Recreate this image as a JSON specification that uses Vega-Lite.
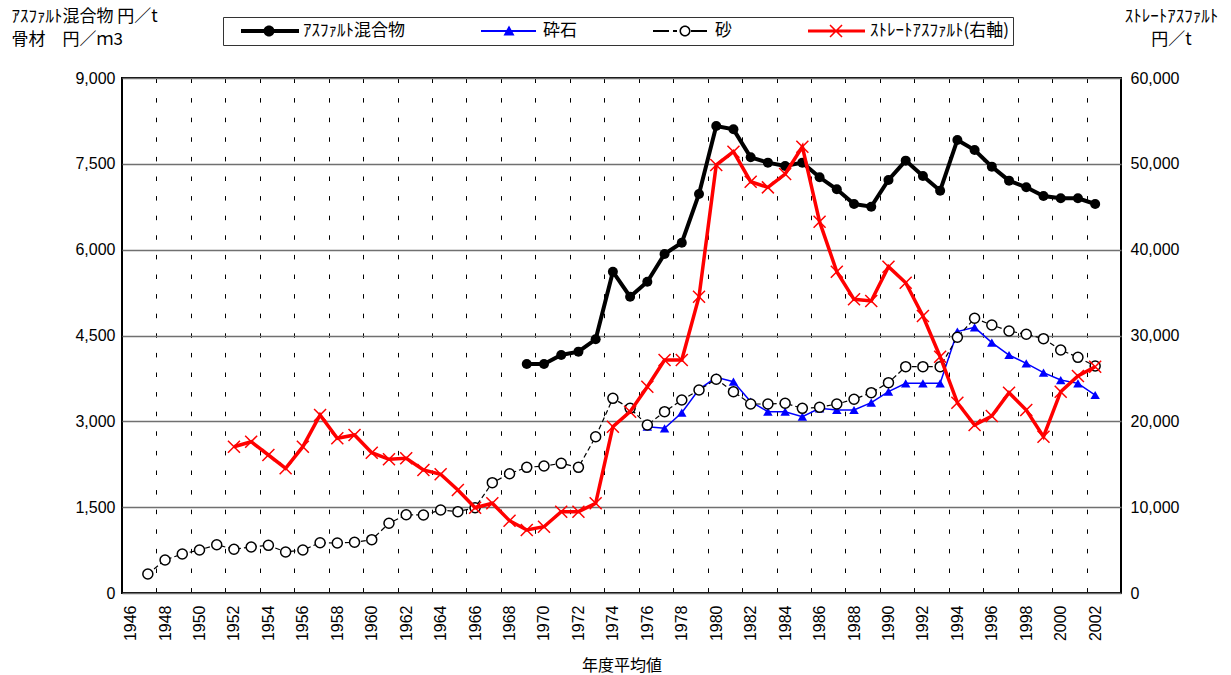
{
  "$schema": "https://vega.github.io/schema/vega-lite/v6.json",
  "autosize": {"type": "none"},
  "padding": {"left": 122, "top": 78, "right": 110, "bottom": 82},
  "width": 999,
  "height": 515,
  "background": "white",
  "config": {
    "view": {"stroke": "black", "strokeWidth": 2},
    "axis": {
      "labelFont": "Liberation Sans",
      "labelFontSize": 16,
      "labelColor": "black",
      "titleFont": "Noto Sans CJK JP",
      "titleFontSize": 17,
      "titleFontWeight": "normal",
      "titleColor": "black",
      "domain": false,
      "ticks": false,
      "labelOverlap": false
    }
  },
  "datasets": {
    "prices": [
      {"year": 1947, "series": "砂", "value": 332},
      {"year": 1948, "series": "砂", "value": 577},
      {"year": 1949, "series": "砂", "value": 682},
      {"year": 1950, "series": "砂", "value": 751},
      {"year": 1951, "series": "砂", "value": 844},
      {"year": 1952, "series": "砂", "value": 764},
      {"year": 1953, "series": "砂", "value": 804},
      {"year": 1954, "series": "砂", "value": 833},
      {"year": 1955, "series": "砂", "value": 717},
      {"year": 1956, "series": "砂", "value": 751},
      {"year": 1957, "series": "砂", "value": 879},
      {"year": 1958, "series": "砂", "value": 873},
      {"year": 1959, "series": "砂", "value": 886},
      {"year": 1960, "series": "砂", "value": 932},
      {"year": 1961, "series": "砂", "value": 1218},
      {"year": 1962, "series": "砂", "value": 1368},
      {"year": 1963, "series": "砂", "value": 1363},
      {"year": 1964, "series": "砂", "value": 1450},
      {"year": 1965, "series": "砂", "value": 1421},
      {"year": 1966, "series": "砂", "value": 1491},
      {"year": 1967, "series": "砂", "value": 1928},
      {"year": 1968, "series": "砂", "value": 2085},
      {"year": 1969, "series": "砂", "value": 2196},
      {"year": 1970, "series": "砂", "value": 2219},
      {"year": 1971, "series": "砂", "value": 2266},
      {"year": 1972, "series": "砂", "value": 2196},
      {"year": 1973, "series": "砂", "value": 2731},
      {"year": 1974, "series": "砂", "value": 3402},
      {"year": 1975, "series": "砂", "value": 3227},
      {"year": 1976, "series": "砂", "value": 2936},
      {"year": 1977, "series": "砂", "value": 3169},
      {"year": 1978, "series": "砂", "value": 3373},
      {"year": 1979, "series": "砂", "value": 3548},
      {"year": 1980, "series": "砂", "value": 3735},
      {"year": 1981, "series": "砂", "value": 3518},
      {"year": 1982, "series": "砂", "value": 3303},
      {"year": 1983, "series": "砂", "value": 3303},
      {"year": 1984, "series": "砂", "value": 3315},
      {"year": 1985, "series": "砂", "value": 3227},
      {"year": 1986, "series": "砂", "value": 3245},
      {"year": 1987, "series": "砂", "value": 3303},
      {"year": 1988, "series": "砂", "value": 3385},
      {"year": 1989, "series": "砂", "value": 3501},
      {"year": 1990, "series": "砂", "value": 3676},
      {"year": 1991, "series": "砂", "value": 3955},
      {"year": 1992, "series": "砂", "value": 3955},
      {"year": 1993, "series": "砂", "value": 3955},
      {"year": 1994, "series": "砂", "value": 4469},
      {"year": 1995, "series": "砂", "value": 4801},
      {"year": 1996, "series": "砂", "value": 4684},
      {"year": 1997, "series": "砂", "value": 4579},
      {"year": 1998, "series": "砂", "value": 4521},
      {"year": 1999, "series": "砂", "value": 4445},
      {"year": 2000, "series": "砂", "value": 4247},
      {"year": 2001, "series": "砂", "value": 4118},
      {"year": 2002, "series": "砂", "value": 3967},
      {"year": 1976, "series": "砕石", "value": 2907},
      {"year": 1977, "series": "砕石", "value": 2878},
      {"year": 1978, "series": "砕石", "value": 3151},
      {"year": 1979, "series": "砕石", "value": 3559},
      {"year": 1980, "series": "砕石", "value": 3769},
      {"year": 1981, "series": "砕石", "value": 3693},
      {"year": 1982, "series": "砕石", "value": 3343},
      {"year": 1983, "series": "砕石", "value": 3169},
      {"year": 1984, "series": "砕石", "value": 3169},
      {"year": 1985, "series": "砕石", "value": 3081},
      {"year": 1986, "series": "砕石", "value": 3227},
      {"year": 1987, "series": "砕石", "value": 3198},
      {"year": 1988, "series": "砕石", "value": 3198},
      {"year": 1989, "series": "砕石", "value": 3326},
      {"year": 1990, "series": "砕石", "value": 3518},
      {"year": 1991, "series": "砕石", "value": 3664},
      {"year": 1992, "series": "砕石", "value": 3664},
      {"year": 1993, "series": "砕石", "value": 3664},
      {"year": 1994, "series": "砕石", "value": 4568},
      {"year": 1995, "series": "砕石", "value": 4643},
      {"year": 1996, "series": "砕石", "value": 4375},
      {"year": 1997, "series": "砕石", "value": 4159},
      {"year": 1998, "series": "砕石", "value": 4014},
      {"year": 1999, "series": "砕石", "value": 3850},
      {"year": 2000, "series": "砕石", "value": 3722},
      {"year": 2001, "series": "砕石", "value": 3664},
      {"year": 2002, "series": "砕石", "value": 3460},
      {"year": 1969, "series": "ｱｽﾌｧﾙﾄ混合物", "value": 4002},
      {"year": 1970, "series": "ｱｽﾌｧﾙﾄ混合物", "value": 4002},
      {"year": 1971, "series": "ｱｽﾌｧﾙﾄ混合物", "value": 4159},
      {"year": 1972, "series": "ｱｽﾌｧﾙﾄ混合物", "value": 4218},
      {"year": 1973, "series": "ｱｽﾌｧﾙﾄ混合物", "value": 4433},
      {"year": 1974, "series": "ｱｽﾌｧﾙﾄ混合物", "value": 5615},
      {"year": 1975, "series": "ｱｽﾌｧﾙﾄ混合物", "value": 5178},
      {"year": 1976, "series": "ｱｽﾌｧﾙﾄ混合物", "value": 5440},
      {"year": 1977, "series": "ｱｽﾌｧﾙﾄ混合物", "value": 5924},
      {"year": 1978, "series": "ｱｽﾌｧﾙﾄ混合物", "value": 6122},
      {"year": 1979, "series": "ｱｽﾌｧﾙﾄ混合物", "value": 6973},
      {"year": 1980, "series": "ｱｽﾌｧﾙﾄ混合物", "value": 8161},
      {"year": 1981, "series": "ｱｽﾌｧﾙﾄ混合物", "value": 8103},
      {"year": 1982, "series": "ｱｽﾌｧﾙﾄ混合物", "value": 7614},
      {"year": 1983, "series": "ｱｽﾌｧﾙﾄ混合物", "value": 7521},
      {"year": 1984, "series": "ｱｽﾌｧﾙﾄ混合物", "value": 7462},
      {"year": 1985, "series": "ｱｽﾌｧﾙﾄ混合物", "value": 7521},
      {"year": 1986, "series": "ｱｽﾌｧﾙﾄ混合物", "value": 7265},
      {"year": 1987, "series": "ｱｽﾌｧﾙﾄ混合物", "value": 7055},
      {"year": 1988, "series": "ｱｽﾌｧﾙﾄ混合物", "value": 6798},
      {"year": 1989, "series": "ｱｽﾌｧﾙﾄ混合物", "value": 6751},
      {"year": 1990, "series": "ｱｽﾌｧﾙﾄ混合物", "value": 7218},
      {"year": 1991, "series": "ｱｽﾌｧﾙﾄ混合物", "value": 7556},
      {"year": 1992, "series": "ｱｽﾌｧﾙﾄ混合物", "value": 7288},
      {"year": 1993, "series": "ｱｽﾌｧﾙﾄ混合物", "value": 7031},
      {"year": 1994, "series": "ｱｽﾌｧﾙﾄ混合物", "value": 7917},
      {"year": 1995, "series": "ｱｽﾌｧﾙﾄ混合物", "value": 7742},
      {"year": 1996, "series": "ｱｽﾌｧﾙﾄ混合物", "value": 7451},
      {"year": 1997, "series": "ｱｽﾌｧﾙﾄ混合物", "value": 7206},
      {"year": 1998, "series": "ｱｽﾌｧﾙﾄ混合物", "value": 7090},
      {"year": 1999, "series": "ｱｽﾌｧﾙﾄ混合物", "value": 6938},
      {"year": 2000, "series": "ｱｽﾌｧﾙﾄ混合物", "value": 6897},
      {"year": 2001, "series": "ｱｽﾌｧﾙﾄ混合物", "value": 6897},
      {"year": 2002, "series": "ｱｽﾌｧﾙﾄ混合物", "value": 6798},
      {"year": 1952, "series": "ｽﾄﾚｰﾄｱｽﾌｧﾙﾄ(右軸)", "value": 17045},
      {"year": 1953, "series": "ｽﾄﾚｰﾄｱｽﾌｧﾙﾄ(右軸)", "value": 17627},
      {"year": 1954, "series": "ｽﾄﾚｰﾄｱｽﾌｧﾙﾄ(右軸)", "value": 16077},
      {"year": 1955, "series": "ｽﾄﾚｰﾄｱｽﾌｧﾙﾄ(右軸)", "value": 14524},
      {"year": 1956, "series": "ｽﾄﾚｰﾄｱｽﾌｧﾙﾄ(右軸)", "value": 17045},
      {"year": 1957, "series": "ｽﾄﾚｰﾄｱｽﾌｧﾙﾄ(右軸)", "value": 20737},
      {"year": 1958, "series": "ｽﾄﾚｰﾄｱｽﾌｧﾙﾄ(右軸)", "value": 18020},
      {"year": 1959, "series": "ｽﾄﾚｰﾄｱｽﾌｧﾙﾄ(右軸)", "value": 18407},
      {"year": 1960, "series": "ｽﾄﾚｰﾄｱｽﾌｧﾙﾄ(右軸)", "value": 16350},
      {"year": 1961, "series": "ｽﾄﾚｰﾄｱｽﾌｧﾙﾄ(右軸)", "value": 15578},
      {"year": 1962, "series": "ｽﾄﾚｰﾄｱｽﾌｧﾙﾄ(右軸)", "value": 15694},
      {"year": 1963, "series": "ｽﾄﾚｰﾄｱｽﾌｧﾙﾄ(右軸)", "value": 14330},
      {"year": 1964, "series": "ｽﾄﾚｰﾄｱｽﾌｧﾙﾄ(右軸)", "value": 13830},
      {"year": 1965, "series": "ｽﾄﾚｰﾄｱｽﾌｧﾙﾄ(右軸)", "value": 12000},
      {"year": 1966, "series": "ｽﾄﾚｰﾄｱｽﾌｧﾙﾄ(右軸)", "value": 9938},
      {"year": 1967, "series": "ｽﾄﾚｰﾄｱｽﾌｧﾙﾄ(右軸)", "value": 10450},
      {"year": 1968, "series": "ｽﾄﾚｰﾄｱｽﾌｧﾙﾄ(右軸)", "value": 8425},
      {"year": 1969, "series": "ｽﾄﾚｰﾄｱｽﾌｧﾙﾄ(右軸)", "value": 7340},
      {"year": 1970, "series": "ｽﾄﾚｰﾄｱｽﾌｧﾙﾄ(右軸)", "value": 7725},
      {"year": 1971, "series": "ｽﾄﾚｰﾄｱｽﾌｧﾙﾄ(右軸)", "value": 9475},
      {"year": 1972, "series": "ｽﾄﾚｰﾄｱｽﾌｧﾙﾄ(右軸)", "value": 9475},
      {"year": 1973, "series": "ｽﾄﾚｰﾄｱｽﾌｧﾙﾄ(右軸)", "value": 10450},
      {"year": 1974, "series": "ｽﾄﾚｰﾄｱｽﾌｧﾙﾄ(右軸)", "value": 19375},
      {"year": 1975, "series": "ｽﾄﾚｰﾄｱｽﾌｧﾙﾄ(右軸)", "value": 21125},
      {"year": 1976, "series": "ｽﾄﾚｰﾄｱｽﾌｧﾙﾄ(右軸)", "value": 24036},
      {"year": 1977, "series": "ｽﾄﾚｰﾄｱｽﾌｧﾙﾄ(右軸)", "value": 27145},
      {"year": 1978, "series": "ｽﾄﾚｰﾄｱｽﾌｧﾙﾄ(右軸)", "value": 27145},
      {"year": 1979, "series": "ｽﾄﾚｰﾄｱｽﾌｧﾙﾄ(右軸)", "value": 34520},
      {"year": 1980, "series": "ｽﾄﾚｰﾄｱｽﾌｧﾙﾄ(右軸)", "value": 49860},
      {"year": 1981, "series": "ｽﾄﾚｰﾄｱｽﾌｧﾙﾄ(右軸)", "value": 51413},
      {"year": 1982, "series": "ｽﾄﾚｰﾄｱｽﾌｧﾙﾄ(右軸)", "value": 47918},
      {"year": 1983, "series": "ｽﾄﾚｰﾄｱｽﾌｧﾙﾄ(右軸)", "value": 47259},
      {"year": 1984, "series": "ｽﾄﾚｰﾄｱｽﾌｧﾙﾄ(右軸)", "value": 48814},
      {"year": 1985, "series": "ｽﾄﾚｰﾄｱｽﾌｧﾙﾄ(右軸)", "value": 51996},
      {"year": 1986, "series": "ｽﾄﾚｰﾄｱｽﾌｧﾙﾄ(右軸)", "value": 43260},
      {"year": 1987, "series": "ｽﾄﾚｰﾄｱｽﾌｧﾙﾄ(右軸)", "value": 37432},
      {"year": 1988, "series": "ｽﾄﾚｰﾄｱｽﾌｧﾙﾄ(右軸)", "value": 34214},
      {"year": 1989, "series": "ｽﾄﾚｰﾄｱｽﾌｧﾙﾄ(右軸)", "value": 34019},
      {"year": 1990, "series": "ｽﾄﾚｰﾄｱｽﾌｧﾙﾄ(右軸)", "value": 38015},
      {"year": 1991, "series": "ｽﾄﾚｰﾄｱｽﾌｧﾙﾄ(右軸)", "value": 36151},
      {"year": 1992, "series": "ｽﾄﾚｰﾄｱｽﾌｧﾙﾄ(右軸)", "value": 32271},
      {"year": 1993, "series": "ｽﾄﾚｰﾄｱｽﾌｧﾙﾄ(右軸)", "value": 27529},
      {"year": 1994, "series": "ｽﾄﾚｰﾄｱｽﾌｧﾙﾄ(右軸)", "value": 22170},
      {"year": 1995, "series": "ｽﾄﾚｰﾄｱｽﾌｧﾙﾄ(右軸)", "value": 19572},
      {"year": 1996, "series": "ｽﾄﾚｰﾄｱｽﾌｧﾙﾄ(右軸)", "value": 20621},
      {"year": 1997, "series": "ｽﾄﾚｰﾄｱｽﾌｧﾙﾄ(右軸)", "value": 23335},
      {"year": 1998, "series": "ｽﾄﾚｰﾄｱｽﾌｧﾙﾄ(右軸)", "value": 21320},
      {"year": 1999, "series": "ｽﾄﾚｰﾄｱｽﾌｧﾙﾄ(右軸)", "value": 18209},
      {"year": 2000, "series": "ｽﾄﾚｰﾄｱｽﾌｧﾙﾄ(右軸)", "value": 23452},
      {"year": 2001, "series": "ｽﾄﾚｰﾄｱｽﾌｧﾙﾄ(右軸)", "value": 25280},
      {"year": 2002, "series": "ｽﾄﾚｰﾄｱｽﾌｧﾙﾄ(右軸)", "value": 26364}
    ]
  },
  "data": {"name": "prices"},
  "encoding": {
    "x": {
      "field": "year",
      "type": "quantitative",
      "scale": {"domain": [1945.5, 2003.5], "nice": false, "zero": false},
      "axis": {
        "values": [1945.5, 1947.5, 1949.5, 1951.5, 1953.5, 1955.5, 1957.5, 1959.5, 1961.5, 1963.5, 1965.5, 1967.5, 1969.5, 1971.5, 1973.5, 1975.5, 1977.5, 1979.5, 1981.5, 1983.5, 1985.5, 1987.5, 1989.5, 1991.5, 1993.5, 1995.5, 1997.5, 1999.5, 2001.5],
        "labelExpr": "format(datum.value + 0.5, 'd')",
        "labelAngle": -90,
        "labelOffset": 8.61,
        "labelPadding": 12,
        "labelFlush": false,
        "grid": true,
        "gridColor": "black",
        "gridDash": [4.5, 15.1],
        "gridWidth": 1,
        "title": "年度平均値",
        "titleFontSize": 16,
        "titleBaseline": "middle",
        "titleY": 72
      }
    }
  },
  "layer": [
    {
      "encoding": {
        "y": {
          "field": "value",
          "type": "quantitative",
          "scale": {"domain": [0, 9000], "nice": false, "zero": true},
          "axis": {
            "values": [0, 1500, 3000, 4500, 6000, 7500, 9000],
            "format": ",d",
            "grid": true,
            "gridColor": "#707070",
            "gridWidth": 1.5,
            "labelPadding": 7,
            "title": ["ｱｽﾌｧﾙﾄ混合物 円／t", "骨材　円／ｍ3"],
            "titleAngle": 0,
            "titleAlign": "left",
            "titleBaseline": "top",
            "titleX": -111,
            "titleY": -70,
            "titleLineHeight": 23
          }
        }
      },
      "layer": [
        {
          "transform": [{"filter": "datum.series === 'ｱｽﾌｧﾙﾄ混合物'"}],
          "mark": {"type": "line", "color": "black", "strokeWidth": 4}
        },
        {
          "transform": [{"filter": "datum.series === 'ｱｽﾌｧﾙﾄ混合物'"}],
          "mark": {"type": "point", "shape": "circle", "filled": true, "color": "black", "size": 100, "opacity": 1}
        },
        {
          "transform": [{"filter": "datum.series === '砕石'"}],
          "mark": {"type": "line", "color": "#0000ff", "strokeWidth": 1.5}
        },
        {
          "transform": [{"filter": "datum.series === '砕石'"}],
          "mark": {"type": "point", "shape": "triangle-up", "filled": true, "color": "#0000ff", "size": 90, "opacity": 1}
        },
        {
          "transform": [{"filter": "datum.series === '砂'"}],
          "mark": {"type": "line", "color": "black", "strokeWidth": 1.2, "strokeDash": [5, 3]}
        },
        {
          "transform": [{"filter": "datum.series === '砂'"}],
          "mark": {"type": "point", "shape": "circle", "filled": true, "fill": "white", "stroke": "black", "strokeWidth": 1.5, "size": 100, "opacity": 1}
        },
        {
          "transform": [{"filter": "datum.year === 2002"}],
          "mark": {"type": "point", "filled": true, "opacity": 0},
          "encoding": {
            "color": {
              "field": "series",
              "type": "nominal",
              "scale": {
                "domain": ["ｱｽﾌｧﾙﾄ混合物", "砕石", "砂", "ｽﾄﾚｰﾄｱｽﾌｧﾙﾄ(右軸)"],
                "range": ["black", "#0000ff", "black", "#ff0000"]
              },
              "legend": {
                "orient": "none",
                "legendX": 101,
                "legendY": -61,
                "direction": "horizontal",
                "columns": 4,
                "title": null,
                "symbolSize": 5184,
                "symbolStrokeWidth": 0,
                "symbolOpacity": 1,
                "clipHeight": 20,
                "labelFont": "Noto Sans CJK JP",
                "labelFontSize": 17,
                "labelColor": "black",
                "labelOffset": 4,
                "labelLimit": 400,
                "columnPadding": 62,
                "padding": 4,
                "strokeColor": "#333333",
                "fillColor": "white"
              }
            },
            "shape": {
              "field": "series",
              "type": "nominal",
              "scale": {
                "domain": ["ｱｽﾌｧﾙﾄ混合物", "砕石", "砂", "ｽﾄﾚｰﾄｱｽﾌｧﾙﾄ(右軸)"],
                "range": [
                  "M-0.611,-0.056L1,-0.056L1,0.056L-0.611,0.056Z M0.32,0A0.153,0.153,0,1,1,0.014,0A0.153,0.153,0,1,1,0.32,0Z",
                  "M-0.611,-0.028L0.917,-0.028L0.917,0.028L-0.611,0.028Z M0.167,-0.153L0.32,0.125L0.014,0.125Z",
                  "M-0.611,-0.025L-0.167,-0.025L-0.167,0.025L-0.611,0.025Z M-0.056,-0.025L0.056,-0.025L0.056,0.025L-0.056,0.025Z M0.431,0A0.153,0.153,0,1,1,0.125,0A0.153,0.153,0,1,1,0.431,0Z M0.389,0A0.111,0.111,0,1,0,0.167,0A0.111,0.111,0,1,0,0.389,0Z M0.444,-0.025L0.889,-0.025L0.889,0.025L0.444,0.025Z",
                  "M-0.611,-0.042L0.972,-0.042L0.972,0.042L-0.611,0.042Z M0.015,-0.182L0.349,0.152L0.319,0.182L-0.015,-0.152Z M-0.015,0.152L0.319,-0.182L0.349,-0.152L0.015,0.182Z"
                ]
              },
              "legend": {
                "orient": "none",
                "legendX": 101,
                "legendY": -61,
                "direction": "horizontal",
                "columns": 4,
                "title": null,
                "symbolSize": 5184,
                "symbolStrokeWidth": 0,
                "symbolOpacity": 1,
                "clipHeight": 20,
                "labelFont": "Noto Sans CJK JP",
                "labelFontSize": 17,
                "labelColor": "black",
                "labelOffset": 4,
                "labelLimit": 400,
                "columnPadding": 62,
                "padding": 4,
                "strokeColor": "#333333",
                "fillColor": "white"
              }
            }
          }
        }
      ]
    },
    {
      "encoding": {
        "y": {
          "field": "value",
          "type": "quantitative",
          "scale": {"domain": [0, 60000], "nice": false, "zero": true},
          "axis": {
            "orient": "right",
            "values": [0, 10000, 20000, 30000, 40000, 50000, 60000],
            "format": ",d",
            "grid": false,
            "labelPadding": 9,
            "title": ["ｽﾄﾚｰﾄｱｽﾌｧﾙﾄ", "円／t"],
            "titleAngle": 0,
            "titleAlign": "center",
            "titleBaseline": "top",
            "titleX": 50,
            "titleY": -70,
            "titleLineHeight": 23
          }
        }
      },
      "layer": [
        {
          "transform": [{"filter": "datum.series === 'ｽﾄﾚｰﾄｱｽﾌｧﾙﾄ(右軸)'"}],
          "mark": {"type": "line", "color": "#ff0000", "strokeWidth": 3.5}
        },
        {
          "transform": [{"filter": "datum.series === 'ｽﾄﾚｰﾄｱｽﾌｧﾙﾄ(右軸)'"}],
          "mark": {"type": "point", "shape": "M-1,-1L1,1M-1,1L1,-1", "filled": false, "stroke": "#ff0000", "strokeWidth": 1.5, "size": 144, "opacity": 1}
        }
      ]
    }
  ],
  "resolve": {"scale": {"y": "independent"}}
}
